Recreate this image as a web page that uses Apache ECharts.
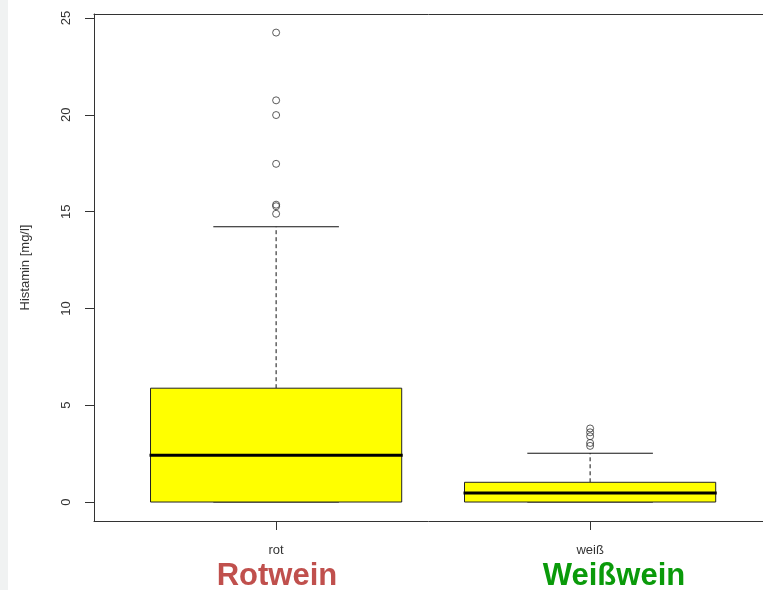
<!DOCTYPE html>
<html>
<head>
<meta charset="utf-8">
<title>Histamin in Wein</title>
<script src="https://cdn.jsdelivr.net/npm/echarts@6/dist/echarts.min.js"></script>
<style>
  html, body { margin: 0; padding: 0; background: #ffffff; }
  #chart { width: 763px; height: 590px; }
</style>
</head>
<body>
<div id="chart"></div>
<script>
// Histamine content (mg/l) of red and white wines: box statistics per group
const categories = ['rot', 'weiß'];
const whiskerLow = [0, 0];
const quartile1 = [0, 0];
const medians = [2.42, 0.47];
const quartile3 = [5.88, 1.02];
const whiskerHigh = [14.22, 2.52];
const outliersRot = [24.25, 20.75, 19.99, 17.47, 15.36, 15.28, 14.89];
const outliersWeiss = [3.8, 3.6, 3.4, 3.05, 2.9];
const yTicks = [0, 5, 10, 15, 20, 25];
const wineNames = ['Rotwein', 'Weißwein'];

const FONT = "'Liberation Sans', Arial, Helvetica, sans-serif";
const BOX_WIDTH = 0.8;   // in x-axis units
const CAP_WIDTH = 0.4;   // whisker staple width in x-axis units

const boxRows = categories.map((c, i) => [
  i + 1, whiskerLow[i], quartile1[i], medians[i], quartile3[i], whiskerHigh[i]
]);
const outlierRows = []
  .concat(outliersRot.map(v => [1, v]))
  .concat(outliersWeiss.map(v => [2, v]));

function renderBox(params, api) {
  const x = api.value(0);
  const lo = api.coord([x, api.value(1)]);
  const b1 = api.coord([x, api.value(2)]);
  const md = api.coord([x, api.value(3)]);
  const b3 = api.coord([x, api.value(4)]);
  const hi = api.coord([x, api.value(5)]);
  const half = api.size([BOX_WIDTH, 0])[0] / 2;
  const capHalf = api.size([CAP_WIDTH, 0])[0] / 2;
  const cx = lo[0];
  const dashed = { stroke: '#111', lineWidth: 1, lineDash: [4, 3] };
  const solid = { stroke: '#111', lineWidth: 1 };
  return {
    type: 'group',
    children: [
      { type: 'line', shape: { x1: cx, y1: b3[1], x2: cx, y2: hi[1] }, style: dashed },
      { type: 'line', shape: { x1: cx, y1: lo[1], x2: cx, y2: b1[1] }, style: dashed },
      { type: 'line', shape: { x1: cx - capHalf, y1: hi[1], x2: cx + capHalf, y2: hi[1] }, style: solid },
      { type: 'line', shape: { x1: cx - capHalf, y1: lo[1], x2: cx + capHalf, y2: lo[1] }, style: solid },
      { type: 'rect', shape: { x: cx - half, y: b3[1], width: half * 2, height: b1[1] - b3[1] },
        style: { fill: '#ffff00', stroke: '#222', lineWidth: 1 } },
      { type: 'line', shape: { x1: cx - half - 1, y1: md[1], x2: cx + half + 1, y2: md[1] },
        style: { stroke: '#000', lineWidth: 3 } }
    ]
  };
}

const frameLine = { show: true, onZero: false, lineStyle: { color: '#333', width: 1 } };

const chart = echarts.init(document.getElementById('chart'), null, { renderer: 'canvas' });
chart.setOption({
  animation: false,
  backgroundColor: '#ffffff',
  textStyle: { fontFamily: FONT },
  // the plot region continues past the right page edge, so the visible x range stops short
  grid: { left: 94, top: 14, right: 0, bottom: 69, show: false },
  xAxis: [
    {
      type: 'value',
      min: 0.42, max: 2.5506,
      splitLine: { show: false },
      axisLine: frameLine,
      axisTick: { show: true, customValues: [1, 2], length: 9, lineStyle: { color: '#333' } },
      axisLabel: {
        show: true, customValues: [1, 2], margin: 23,
        fontSize: 13, color: '#333', fontFamily: FONT,
        formatter: v => categories[Math.round(v) - 1]
      }
    },
    {
      type: 'value', position: 'top',
      min: 0.42, max: 2.5506,
      splitLine: { show: false },
      axisLine: frameLine,
      axisTick: { show: false },
      axisLabel: { show: false }
    }
  ],
  yAxis: {
    type: 'value',
    min: -0.98, max: 25.21,
    name: 'Histamin [mg/l]',
    nameLocation: 'middle',
    nameGap: 62,
    nameRotate: 90,
    nameTextStyle: { fontSize: 13, color: '#333', fontFamily: FONT },
    splitLine: { show: false },
    axisLine: frameLine,
    axisTick: { show: true, customValues: yTicks, length: 9, lineStyle: { color: '#333' } },
    axisLabel: {
      show: true, customValues: yTicks, rotate: 90, margin: 21,
      fontSize: 13, color: '#333', fontFamily: FONT
    }
  },
  series: [
    {
      type: 'custom',
      renderItem: renderBox,
      data: boxRows,
      encode: { x: 0, y: [1, 2, 3, 4, 5] },
      z: 2
    },
    {
      type: 'scatter',
      data: outlierRows,
      symbol: 'circle',
      symbolSize: 7,
      itemStyle: { color: 'rgba(0,0,0,0)', borderColor: '#333', borderWidth: 1 },
      z: 3
    }
  ],
  graphic: [
    { type: 'rect', left: 0, top: 0, shape: { width: 8, height: 590 }, style: { fill: '#f0f2f2' }, silent: true },
    { type: 'text', x: 277, y: 576,
      style: { text: wineNames[0], font: "bold 31px " + FONT, fill: '#c0504d', align: 'center', verticalAlign: 'middle' } },
    { type: 'text', x: 614, y: 576,
      style: { text: wineNames[1], font: "bold 31px " + FONT, fill: '#0a9a0a', align: 'center', verticalAlign: 'middle' } }
  ]
});
</script>
</body>
</html>
